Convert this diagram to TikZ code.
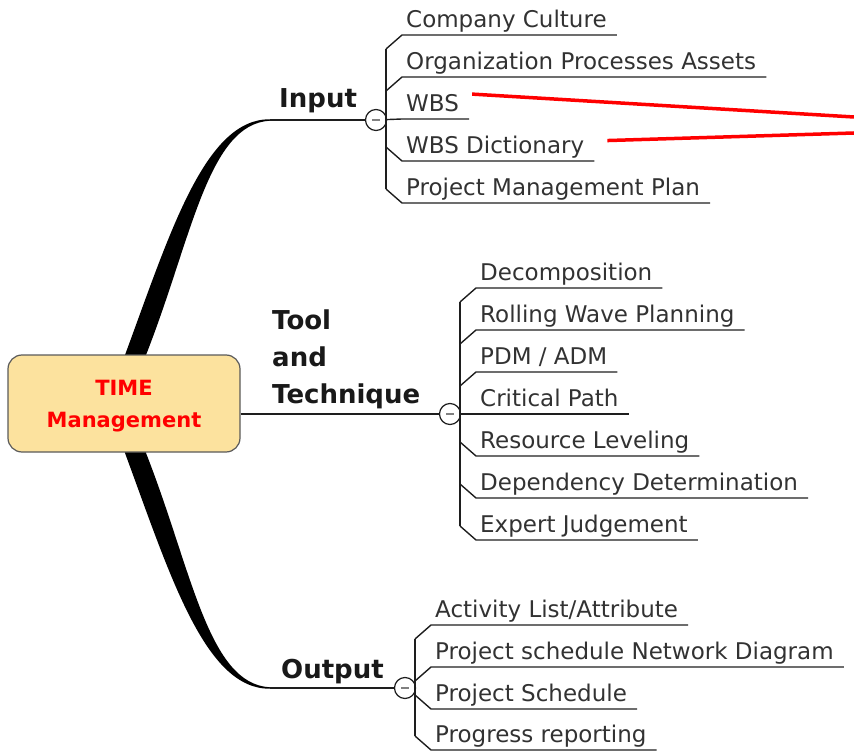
\documentclass[tikz,border=0pt]{standalone}
\usepackage{fontspec}
\setmainfont{DejaVu Sans}
\usetikzlibrary{calc}

\definecolor{hubfill}{RGB}{252,226,158}
\definecolor{hubline}{RGB}{90,90,90}
\definecolor{leaftext}{RGB}{50,50,50}
\definecolor{wirecol}{RGB}{30,30,30}

\tikzset{
  hub/.style={draw=hubline, fill=hubfill, line width=1.2pt, rounded corners=14pt,
    minimum width=232pt, minimum height=97pt, align=center, text=red, text depth=0pt,
    font=\fontsize{21}{32}\selectfont\bfseries},
  topic/.style={anchor=base west, inner sep=0pt, text=black!90,
    font=\fontsize{26}{37}\selectfont\bfseries},
  leaf/.style={anchor=south west, inner xsep=4pt, inner ysep=0pt, text height=17pt,
    text depth=7.5pt, text=leaftext, font=\fontsize{23}{27}\selectfont},
  fold/.style={circle, draw=wirecol, fill=white, line width=1.2pt, minimum size=21pt,
    inner sep=0pt, path picture={\draw[gray, line width=1.5pt]
      ([xshift=-4pt]path picture bounding box.center) -- ([xshift=4pt]path picture bounding box.center);}},
  wire/.style={draw=wirecol, line width=1.4pt},
  spoke/.style={fill=black},
  note/.style={draw=red, line width=3.5pt}
}

\begin{document}
\begin{tikzpicture}[x=1pt, y=-1pt]
  \useasboundingbox (0,0) rectangle (854,751);

  % thick curved spokes
  \fill[spoke] (121,380) -- (125,355) .. controls (170,233) and (205,118.5) .. (270,119.3)
    -- (270,120.7) .. controls (208,124) and (192,238) .. (146,355) -- (150,380) -- cycle;
  \fill[spoke] (121,428) -- (125,453) .. controls (170,575) and (205,689.5) .. (270,688.7)
    -- (270,687.3) .. controls (208,684) and (192,570) .. (146,453) -- (150,428) -- cycle;

  \node[hub] (time) at (124,403.5) {TIME\\Management};

  \coordinate (inEnd) at (270,120);
  \coordinate (outEnd) at (270,688);

  \node[fold] (cin) at (376,120) {};
  \node[fold] (ctool) at (450,414) {};
  \node[fold] (cout) at (405,688) {};

  \node[topic] (lin) at (279,108) {Input};
  \node[topic, align=left, anchor=south west] (ltool) at (272,409) {Tool\\and\\Technique};
  \node[topic] (lout) at (281,678) {Output};

  % input
  \node[leaf] (i1) at (402,35)  {Company Culture};
  \node[leaf] (i2) at (402,77)  {Organization Processes Assets};
  \node[leaf] (i3) at (402,119) {WBS};
  \node[leaf] (i4) at (402,161) {WBS Dictionary};
  \node[leaf] (i5) at (402,203) {Project Management Plan};

  % tool and technique
  \node[leaf] (t1) at (476,288) {Decomposition};
  \node[leaf] (t2) at (476,330) {Rolling Wave Planning};
  \node[leaf] (t3) at (476,372) {PDM / ADM};
  \node[leaf] (t4) at (476,414) {Critical Path};
  \node[leaf] (t5) at (476,456) {Resource Leveling};
  \node[leaf] (t6) at (476,498) {Dependency Determination};
  \node[leaf] (t7) at (476,540) {Expert Judgement};

  % output
  \node[leaf] (o1) at (431,625) {Activity List/Attribute};
  \node[leaf] (o2) at (431,667) {Project schedule Network Diagram};
  \node[leaf] (o3) at (431,709) {Project Schedule};
  \node[leaf] (o4) at (431,750) {Progress reporting};

  \draw[wire] (inEnd) -- (cin);
  \draw[wire] (time.east |- ctool) -- (ctool);
  \draw[wire] (outEnd) -- (cout);

  % spines
  \draw[wire] ([shift={(-16,14)}]i1.south west) -- ([shift={(-16,-14)}]i5.south west);
  \draw[wire] ([shift={(-16,14)}]t1.south west) -- ([shift={(-16,-14)}]t7.south west);
  \draw[wire] ([shift={(-16,14)}]o1.south west) -- ([shift={(-16,-14)}]o4.south west);

  % leaf underlines
  \draw[wire] ([shift={(-16,14)}]i1.south west) -- (i1.south west) -- ([xshift=6pt]i1.south east);
  \draw[wire] ([shift={(-16,14)}]i2.south west) -- (i2.south west) -- ([xshift=6pt]i2.south east);
  \draw[wire] (cin) -- (i3.south west) -- ([xshift=6pt]i3.south east);
  \draw[wire] ([shift={(-16,-14)}]i4.south west) -- (i4.south west) -- ([xshift=6pt]i4.south east);
  \draw[wire] ([shift={(-16,-14)}]i5.south west) -- (i5.south west) -- ([xshift=6pt]i5.south east);

  \draw[wire] ([shift={(-16,14)}]t1.south west) -- (t1.south west) -- ([xshift=6pt]t1.south east);
  \draw[wire] ([shift={(-16,14)}]t2.south west) -- (t2.south west) -- ([xshift=6pt]t2.south east);
  \draw[wire] ([shift={(-16,14)}]t3.south west) -- (t3.south west) -- ([xshift=6pt]t3.south east);
  \draw[wire] (ctool) -- (t4.south west) -- ([xshift=6pt]t4.south east);
  \draw[wire] ([shift={(-16,-14)}]t5.south west) -- (t5.south west) -- ([xshift=6pt]t5.south east);
  \draw[wire] ([shift={(-16,-14)}]t6.south west) -- (t6.south west) -- ([xshift=6pt]t6.south east);
  \draw[wire] ([shift={(-16,-14)}]t7.south west) -- (t7.south west) -- ([xshift=6pt]t7.south east);

  \draw[wire] ([shift={(-16,14)}]o1.south west) -- (o1.south west) -- ([xshift=6pt]o1.south east);
  \draw[wire] ([shift={(-16,14)}]o2.south west) -- (o2.south west) -- ([xshift=6pt]o2.south east);
  \draw[wire] ([shift={(-16,-14)}]o3.south west) -- (o3.south west) -- ([xshift=6pt]o3.south east);
  \draw[wire] ([shift={(-16,-14)}]o4.south west) -- (o4.south west) -- ([xshift=6pt]o4.south east);

  % red pointers
  \coordinate (wbsEnd) at (854,117);
  \coordinate (dictEnd) at (854,133);
  \draw[note] ([xshift=9pt]i3.north east) -- (wbsEnd);
  \draw[note] ([shift={(19,-8)}]i4.east) -- (dictEnd);
\end{tikzpicture}
\end{document}
